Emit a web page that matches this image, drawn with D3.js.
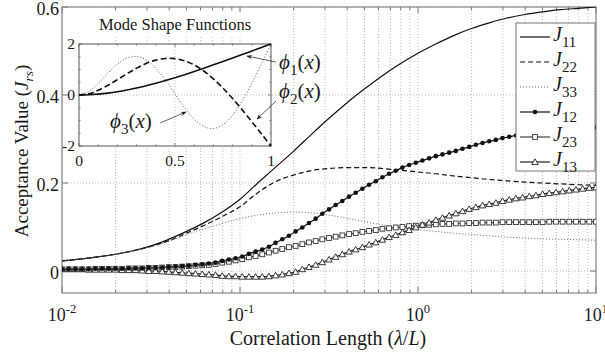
<!DOCTYPE html>
<html><head><meta charset="utf-8">
<script src="https://cdn.jsdelivr.net/npm/d3@7"></script>
<style>
body{margin:0;background:#fff}
svg{display:block}
text{font-family:"Liberation Serif","Times New Roman",serif;fill:#1a1a1a}
</style></head><body>
<svg id="c" width="605" height="353"></svg>
<script>
// ---- main chart data: acceptance vs correlation length (log10 of lambda/L) ----
// line-only series sampled every 0.1 decade from 10^-2 to 10^1
const coarseExp = d3.range(31).map(i => +(-2 + i * 0.1).toFixed(2));
const J11 = [0.023,0.027,0.032,0.038,0.046,0.057,0.072,0.090,0.110,0.134,0.163,0.200,0.236,0.272,0.310,0.347,0.382,0.414,0.444,0.471,0.495,0.516,0.535,0.551,0.564,0.575,0.583,0.589,0.594,0.597,0.600];
const J22 = [0.023,0.027,0.032,0.038,0.046,0.056,0.069,0.086,0.104,0.124,0.146,0.178,0.203,0.218,0.228,0.233,0.235,0.235,0.233,0.229,0.225,0.221,0.216,0.212,0.208,0.205,0.202,0.200,0.198,0.196,0.195];
const J33 = [0.023,0.027,0.032,0.038,0.045,0.055,0.067,0.083,0.096,0.108,0.119,0.127,0.132,0.134,0.132,0.127,0.120,0.112,0.105,0.099,0.094,0.090,0.086,0.083,0.080,0.077,0.075,0.073,0.072,0.071,0.070];

// marker series sampled every 0.0375 decade (81 points)
const fineExp = d3.range(81).map(i => +(-2 + i * 0.0375).toFixed(4));
const J12 = [0.004,0.004,0.004,0.004,0.004,0.005,0.005,0.005,0.005,0.005,0.006,0.006,0.006,0.007,0.007,0.008,0.009,0.010,0.011,0.012,
             0.014,0.015,0.017,0.019,0.023,0.026,0.029,0.033,0.039,0.044,0.049,0.055,0.064,0.072,0.080,0.090,0.099,0.109,0.119,0.130,
             0.140,0.150,0.159,0.169,0.178,0.187,0.196,0.204,0.213,0.221,0.228,0.235,0.241,0.246,0.251,0.256,0.261,0.265,0.269,0.273,
             0.278,0.282,0.287,0.291,0.295,0.298,0.302,0.305,0.308,0.310,0.313,0.315,0.317,0.319,0.320,0.322,0.323,0.324,0.325,0.326,0.327];
const J23 = [0.004,0.004,0.004,0.004,0.004,0.005,0.005,0.005,0.005,0.005,0.006,0.006,0.006,0.007,0.007,0.008,0.009,0.009,0.010,0.011,
             0.012,0.013,0.014,0.016,0.019,0.021,0.024,0.027,0.031,0.034,0.038,0.042,0.046,0.050,0.054,0.057,0.061,0.065,0.068,0.072,
             0.075,0.078,0.081,0.084,0.086,0.089,0.091,0.093,0.096,0.097,0.099,0.100,0.102,0.103,0.104,0.105,0.106,0.107,0.107,0.108,
             0.108,0.109,0.109,0.110,0.110,0.110,0.111,0.111,0.111,0.111,0.111,0.111,0.111,0.112,0.112,0.112,0.112,0.112,0.112,0.112,0.112];
const J13 = [0.004,0.004,0.004,0.004,0.003,0.003,0.003,0.003,0.003,0.002,0.002,0.002,0.001,0.000,0.000,-0.001,-0.002,-0.003,-0.004,-0.005,
             -0.006,-0.007,-0.008,-0.009,-0.011,-0.012,-0.012,-0.013,-0.013,-0.013,-0.013,-0.012,-0.010,-0.008,-0.005,-0.002,0.004,0.009,0.014,0.020,
             0.026,0.032,0.038,0.044,0.049,0.054,0.060,0.065,0.071,0.077,0.082,0.088,0.093,0.099,0.105,0.110,0.116,0.121,0.126,0.131,
             0.136,0.141,0.145,0.149,0.152,0.155,0.159,0.162,0.165,0.167,0.170,0.172,0.175,0.177,0.179,0.181,0.183,0.185,0.187,0.189,0.190];

const yTickValues = [0, 0.2, 0.4, 0.6];
const xTickExps = [-2, -1, 0, 1];

// ---- inset data: cantilever mode shapes on x in [0, 1] ----
const insetX = d3.range(21).map(i => +(i * 0.05).toFixed(2));
const phi1 = [0,0.0086,0.0335,0.0737,0.1277,0.1946,0.2729,0.3618,0.4598,0.5659,0.6790,0.7982,0.9223,1.0504,1.1817,1.3155,1.4509,1.5875,1.7248,1.8624,2.0];
const phi2 = [0,0.0507,0.1853,0.3776,0.6020,0.8345,1.0523,1.2353,1.3669,1.4339,1.4273,1.3425,1.1789,0.9404,0.6341,0.2700,-0.1401,-0.5833,-1.0475,-1.5222,-2.0];
const phi3 = [0,0.1341,0.4562,0.8496,1.2090,1.4490,1.5125,1.3761,1.0519,0.5835,0.0394,-0.4986,-0.9475,-1.2361,-1.3149,-1.1629,-0.7899,-0.2320,0.4570,1.2170,2.0];

const svg = d3.select('#c');
const x = d3.scaleLog().domain([0.01, 10]).range([62, 596]);
const y = d3.scaleLinear().domain([-0.05, 0.6]).range([293, 7]);
const [X0, X1] = x.range(), [Y1, Y0] = y.range();

// rich text helper: parts = [{t, it, sub, sup, reset}]
function rich(g, parts, size, scr = 0.7) {
  parts.forEach(p => {
    const ts = g.append('tspan').text(p.t);
    if (p.it) ts.attr('font-style', 'italic');
    if (p.sub) ts.attr('font-size', size * scr).attr('dy', size * 0.28);
    if (p.sup) ts.attr('font-size', size * scr).attr('dy', -size * 0.45);
    if (p.reset) ts.attr('dy', p.reset * size);
  });
  return g;
}

// ---- grid ----
const grid = svg.append('g').attr('stroke', '#aaa').attr('stroke-width', 0.8).attr('stroke-dasharray', '1,2');
const logTicks = x.ticks().filter(v => v >= 0.01 && v <= 10);
grid.selectAll('line.v').data(logTicks).join('line')
  .attr('x1', d => x(d)).attr('x2', d => x(d)).attr('y1', Y0).attr('y2', Y1);
grid.selectAll('line.h').data(yTickValues).join('line')
  .attr('x1', X0).attr('x2', X1).attr('y1', d => y(d)).attr('y2', d => y(d));

// ---- ticks (inside, all four sides) ----
const tk = svg.append('g').attr('stroke', '#777').attr('stroke-width', 1);
logTicks.forEach(v => {
  const major = Math.abs(Math.log10(v) - Math.round(Math.log10(v))) < 1e-9;
  const L = major ? 6 : 3;
  tk.append('line').attr('x1', x(v)).attr('x2', x(v)).attr('y1', Y1).attr('y2', Y1 - L);
  tk.append('line').attr('x1', x(v)).attr('x2', x(v)).attr('y1', Y0).attr('y2', Y0 + L);
});
yTickValues.forEach(v => {
  tk.append('line').attr('x1', X0).attr('x2', X0 + 6).attr('y1', y(v)).attr('y2', y(v));
  tk.append('line').attr('x1', X1).attr('x2', X1 - 6).attr('y1', y(v)).attr('y2', y(v));
});

// frame
svg.append('rect').attr('x', X0).attr('y', Y0).attr('width', X1 - X0).attr('height', Y1 - Y0)
  .attr('fill', 'none').attr('stroke', '#888').attr('stroke-width', 1.2);

// tick labels
xTickExps.forEach(e => {
  const t = svg.append('text').attr('x', x(Math.pow(10, e))).attr('y', 321)
    .attr('text-anchor', 'middle').attr('font-size', 18);
  rich(t, [{t: '10'}, {t: String(e), sup: true}], 18);
});
yTickValues.forEach(v => {
  svg.append('text').attr('x', 59).attr('y', Math.max(y(v) + 1.5, 9)).attr('dy', '0.35em')
    .attr('text-anchor', 'end').attr('font-size', 18).text(v === 0 ? '0' : v.toFixed(1));
});

// axis titles
rich(svg.append('text').attr('x', 328).attr('y', 345).attr('text-anchor', 'middle').attr('font-size', 20),
  [{t: 'Correlation Length ('}, {t: 'λ', it: true}, {t: '/'}, {t: 'L', it: true}, {t: ')'}], 20);
rich(svg.append('text').attr('transform', 'translate(28,151) rotate(-90)').attr('text-anchor', 'middle').attr('font-size', 19),
  [{t: 'Acceptance Value ('}, {t: 'J', it: true}, {t: 'rs', it: true, sub: true}, {t: ')', reset: -0.28}], 19);

// ---- curves ----
svg.append('clipPath').attr('id', 'pc').append('rect')
  .attr('x', X0).attr('y', Y0).attr('width', X1 - X0).attr('height', Y1 - Y0);
const plot = svg.append('g').attr('clip-path', 'url(#pc)');
const lineC = d3.line().x(d => x(Math.pow(10, d[0]))).y(d => y(d[1])).curve(d3.curveMonotoneX);
const zipC = arr => coarseExp.map((e, i) => [e, arr[i]]);
const zipF = arr => fineExp.map((e, i) => [e, arr[i]]);

const styles = {
  J11: {stroke: '#111', w: 1.2, dash: null},
  J22: {stroke: '#111', w: 1.2, dash: '5,3'},
  J33: {stroke: '#666', w: 1, dash: '1,2'},
  J12: {stroke: '#111', w: 1.2},
  J23: {stroke: '#444', w: 1.2},
  J13: {stroke: '#222', w: 1.2}
};
[['J11', J11], ['J22', J22], ['J33', J33]].forEach(([k, arr]) => {
  plot.append('path').datum(zipC(arr)).attr('d', lineC).attr('fill', 'none')
    .attr('stroke', styles[k].stroke).attr('stroke-width', styles[k].w)
    .attr('stroke-dasharray', styles[k].dash);
});
[['J12', J12], ['J23', J23], ['J13', J13]].forEach(([k, arr]) => {
  plot.append('path').datum(zipF(arr)).attr('d', lineC).attr('fill', 'none')
    .attr('stroke', styles[k].stroke).attr('stroke-width', styles[k].w);
});

const tri = d3.symbol().type(d3.symbolTriangle).size(18);
function drawMarker(g, kind, cx, cy) {
  if (kind === 'circle') g.append('circle').attr('cx', cx).attr('cy', cy).attr('r', 2.3).attr('fill', '#111');
  if (kind === 'square') g.append('rect').attr('x', cx - 2.4).attr('y', cy - 2.4).attr('width', 4.8).attr('height', 4.8)
    .attr('fill', '#fff').attr('stroke', '#333').attr('stroke-width', 0.9);
  if (kind === 'tri') g.append('path').attr('d', tri()).attr('transform', `translate(${cx},${cy + 0.6})`)
    .attr('fill', '#fff').attr('stroke', '#222').attr('stroke-width', 0.9);
}
[['J23', J23, 'square'], ['J13', J13, 'tri'], ['J12', J12, 'circle']].forEach(([k, arr, kind]) => {
  zipF(arr).forEach(d => drawMarker(plot, kind, x(Math.pow(10, d[0])), y(d[1])));
});

// ---- legend ----
const lg = svg.append('g');
lg.append('rect').attr('x', 516).attr('y', 23).attr('width', 79).attr('height', 148)
  .attr('fill', '#fff').attr('stroke', '#777').attr('stroke-width', 1);
const legendItems = [
  {k: 'J11', sub: '11'}, {k: 'J22', sub: '22'}, {k: 'J33', sub: '33'},
  {k: 'J12', sub: '12', m: 'circle'}, {k: 'J23', sub: '23', m: 'square'}, {k: 'J13', sub: '13', m: 'tri'}
];
legendItems.forEach((it, i) => {
  const ly = 37 + i * 25, s = styles[it.k];
  lg.append('line').attr('x1', 520).attr('x2', 550).attr('y1', ly).attr('y2', ly)
    .attr('stroke', s.stroke).attr('stroke-width', s.w).attr('stroke-dasharray', s.dash || null);
  if (it.m) drawMarker(lg, it.m, 535, ly);
  rich(lg.append('text').attr('x', 553).attr('y', ly + 4).attr('font-size', 20),
    [{t: 'J', it: true}, {t: it.sub, sub: true}], 20, 0.75);
});

// ---- inset: mode shape functions ----
const xi = d3.scaleLinear().domain([0, 1]).range([79, 271]);
const yi = d3.scaleLinear().domain([-2, 2]).range([146, 44]);
const ins = svg.append('g');
ins.append('rect').attr('x', 80).attr('y', 12).attr('width', 192).attr('height', 25).attr('fill', '#fff');
ins.append('text').attr('x', 175).attr('y', 30).attr('text-anchor', 'middle').attr('font-size', 16.5).text('Mode Shape Functions');
ins.append('rect').attr('x', 79).attr('y', 44).attr('width', 192).attr('height', 102).attr('fill', '#fff');
const ig = ins.append('g').attr('stroke', '#aaa').attr('stroke-width', 0.8).attr('stroke-dasharray', '1,2');
ig.append('line').attr('x1', xi(0.5)).attr('x2', xi(0.5)).attr('y1', 44).attr('y2', 146);
ig.append('line').attr('x1', 79).attr('x2', 271).attr('y1', yi(0)).attr('y2', yi(0));
const it2 = ins.append('g').attr('stroke', '#666').attr('stroke-width', 0.8);
d3.range(11).forEach(i => {
  const px = xi(i / 10), L = (i % 5 === 0) ? 3 : 1.6;
  it2.append('line').attr('x1', px).attr('x2', px).attr('y1', 146).attr('y2', 146 - L);
  it2.append('line').attr('x1', px).attr('x2', px).attr('y1', 44).attr('y2', 44 + L);
});
d3.range(-2, 2.01, 0.5).forEach(v => {
  const L = (v % 2 === 0) ? 3 : 1.6;
  it2.append('line').attr('x1', 79).attr('x2', 79 + L).attr('y1', yi(v)).attr('y2', yi(v));
  it2.append('line').attr('x1', 271).attr('x2', 271 - L).attr('y1', yi(v)).attr('y2', yi(v));
});
ins.append('rect').attr('x', 79).attr('y', 44).attr('width', 192).attr('height', 102)
  .attr('fill', 'none').attr('stroke', '#555').attr('stroke-width', 1);
[[0, '0'], [0.5, '0.5'], [1, '1']].forEach(([v, s]) =>
  ins.append('text').attr('x', xi(v)).attr('y', 166).attr('text-anchor', 'middle').attr('font-size', 15.5).text(s));
[[2, '2'], [0, '0'], [-2, '-2']].forEach(([v, s]) =>
  ins.append('text').attr('x', 75).attr('y', yi(v)).attr('dy', '0.35em').attr('text-anchor', 'end').attr('font-size', 15.5).text(s));

const lineI = d3.line().x(d => xi(d[0])).y(d => yi(d[1])).curve(d3.curveCatmullRom);
const zipI = arr => insetX.map((v, i) => [v, arr[i]]);
ins.append('path').datum(zipI(phi3)).attr('d', lineI).attr('fill', 'none').attr('stroke', '#555').attr('stroke-width', 1).attr('stroke-dasharray', '1,2');
ins.append('path').datum(zipI(phi2)).attr('d', lineI).attr('fill', 'none').attr('stroke', '#111').attr('stroke-width', 1.6).attr('stroke-dasharray', '6,3');
ins.append('path').datum(zipI(phi1)).attr('d', lineI).attr('fill', 'none').attr('stroke', '#111').attr('stroke-width', 1.6);

// annotation arrows
svg.append('defs').append('marker').attr('id', 'ah').attr('viewBox', '0 0 10 10').attr('refX', 9).attr('refY', 5)
  .attr('markerWidth', 7).attr('markerHeight', 7).attr('orient', 'auto')
  .append('path').attr('d', 'M0,1 L10,5 L0,9 L3,5 Z').attr('fill', '#222');
const arrows = [
  {x1: 276, y1: 62, x2: 247, y2: 56},
  {x1: 276, y1: 101, x2: 257, y2: 119},
  {x1: 160, y1: 123, x2: 186, y2: 112}
];
arrows.forEach(a => svg.append('line').attr('x1', a.x1).attr('y1', a.y1).attr('x2', a.x2).attr('y2', a.y2)
  .attr('stroke', '#333').attr('stroke-width', 0.8).attr('marker-end', 'url(#ah)'));
const phiLabels = [
  {x: 279, y: 69, n: '1'}, {x: 279, y: 98, n: '2'}, {x: 110, y: 128, n: '3'}
];
phiLabels.forEach(p => rich(svg.append('text').attr('x', p.x).attr('y', p.y).attr('font-size', 21),
  [{t: 'ϕ', it: true}, {t: p.n, sub: true}, {t: '(', reset: -0.28}, {t: 'x', it: true}, {t: ')'}], 21, 0.72));
</script>
</body></html>
